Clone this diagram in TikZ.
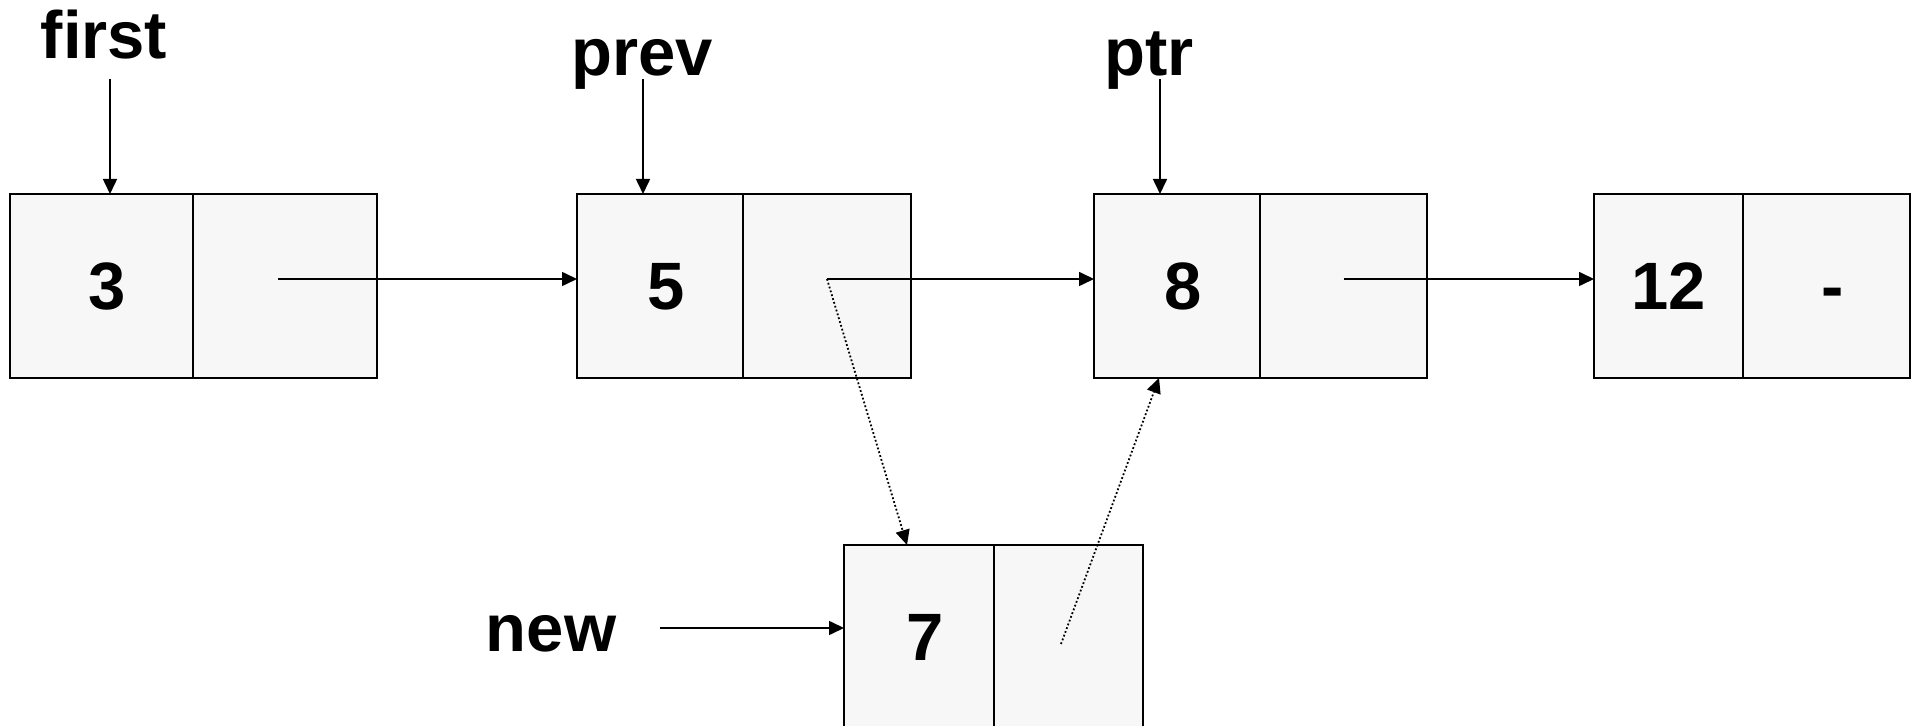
\documentclass[tikz,border=0pt]{standalone}
\usepackage{fontspec}
\setmainfont{Liberation Sans}
\usetikzlibrary{arrows.meta}
\begin{document}
\begin{tikzpicture}[x=0.5pt,y=-0.5pt,
  cell/.style={draw, line width=1pt, fill=gray!6, minimum height=92pt, inner sep=0pt, outer sep=0pt,
    anchor=north west, font=\fontsize{33.5}{40}\selectfont\bfseries, text height=24pt, text depth=0pt},
  numr/.style={execute at begin node={\hspace*{6pt}}},
  lbl/.style={anchor=base, inner sep=0pt, font=\fontsize{33.5}{40}\selectfont\bfseries},
  arr/.style={line width=0.8pt, -{Triangle[length=7.5pt,width=7pt]}},
  dotarr/.style={line width=0.9pt, dash pattern=on 0.9pt off 1.1pt, -{Triangle[length=7.5pt,width=7pt]}}]
\path[use as bounding box, clip] (0,0) rectangle (1917,726);
% nodes of the list
\node[cell, numr, minimum width=91.5pt] (c3) at (10,194) {3};
\node[cell, minimum width=92pt] (p3) at (c3.north east) {};
\node[cell, numr, minimum width=83pt] (c5) at (577,194) {5};
\node[cell, minimum width=84pt] (p5) at (c5.north east) {};
\node[cell, numr, minimum width=83pt] (c8) at (1094,194) {8};
\node[cell, minimum width=83.5pt] (p8) at (c8.north east) {};
\node[cell, minimum width=74.5pt] (c12) at (1594,194) {12};
\node[cell, numr, minimum width=83.5pt] (p12) at (c12.north east) {-};
\node[cell, numr, minimum width=75pt] (c7) at (844,545) {7};
\node[cell, minimum width=74.5pt] (p7) at (c7.north east) {};
% labels
\node[lbl] (first) at (104,59) {first};
\node[lbl] (prev) at (642,76) {prev};
\node[lbl] (ptr) at (1149,76) {ptr};
\node[lbl] (new) at (551,652) {new};
% pointer arrows from labels
\coordinate (fA) at ([xshift=4.25pt]c3.north |- 0,79);
\coordinate (pA) at ([xshift=-8.5pt]c5.north |- 0,79);
\coordinate (tA) at ([xshift=-8.5pt]c8.north |- 0,79);
\coordinate (nA) at (660,628);
\draw[arr] (fA) -- (fA |- c3.north);
\draw[arr] (pA) -- (pA |- c5.north);
\draw[arr] (tA) -- (tA |- c8.north);
\draw[arr] (nA) -- ([yshift=4.5pt]c7.west);
% next links
\draw[arr] ([shift={(-3.5pt,3.5pt)}]p3.center) -- ([yshift=3.5pt]c5.west);
\draw[arr] ([yshift=3.5pt]p5.center) -- ([yshift=3.5pt]c8.west);
\draw[arr] ([yshift=3.5pt]p8.center) -- ([yshift=3.5pt]c12.west);
% new links (dotted)
\draw[dotarr] ([yshift=3.5pt]p5.center) -- ([xshift=-6pt]c7.north);
\draw[dotarr] ([shift={(-3.75pt,-3.5pt)}]p7.center) -- ([xshift=-9pt]c8.south);
\end{tikzpicture}
\end{document}
